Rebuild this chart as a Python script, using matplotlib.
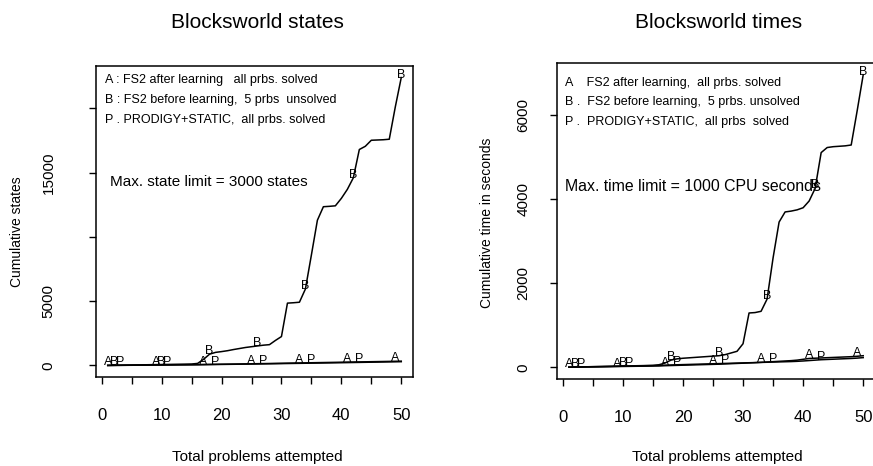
import matplotlib

matplotlib.use("Agg")

import matplotlib.pyplot as plt

plt.rcParams["font.family"] = ["Liberation Sans", "DejaVu Sans"]

# problem number on the x axis
problems = list(range(1, 51))

# cumulative states (left panel)
states_after = [4, 9, 13, 17, 21, 26, 30, 34, 38, 42, 47, 51, 55, 59, 63, 67, 76, 84, 92, 98,
                104, 110, 117, 124, 131, 139, 147, 155, 163, 171, 180, 188, 196, 205, 213, 221, 229, 237, 245, 253,
                262, 270, 278, 286, 294, 302, 310, 318, 327, 335]
states_before = [8, 15, 22, 30, 38, 45, 52, 60, 68, 75, 82, 90, 98, 105, 115, 160, 480, 880, 1020, 1080,
                 1150, 1240, 1320, 1400, 1460, 1520, 1580, 1620, 1950, 2250, 4850, 4880, 4920, 5950, 8600, 11300,
                 12350, 12380, 12420, 13000, 13700, 14600, 16800, 17050, 17520, 17540, 17560, 17600, 20100, 22400]
states_prodigy = [3, 7, 11, 15, 18, 22, 25, 29, 33, 36, 40, 43, 47, 50, 54, 58, 64, 70, 76, 82,
                  88, 94, 100, 106, 112, 118, 125, 132, 139, 146, 153, 160, 167, 174, 181, 188, 195, 202, 209, 216,
                  224, 232, 240, 248, 256, 264, 272, 280, 287, 295]

# cumulative CPU seconds (right panel)
times_after = [2, 4, 6, 8, 10, 12, 14, 16, 18, 20, 22, 24, 26, 28, 30, 32, 38, 42, 46, 50,
               54, 58, 62, 66, 70, 74, 80, 86, 92, 98, 104, 110, 118, 126, 134, 142, 150, 158, 170, 190,
               210, 216, 222, 228, 234, 240, 246, 252, 262, 275]
times_before = [3, 6, 9, 12, 15, 18, 21, 24, 27, 30, 33, 36, 39, 42, 45, 60, 100, 170, 200, 215,
                225, 235, 245, 255, 265, 275, 300, 340, 380, 560, 1290, 1300, 1330, 1620, 2600, 3450,
                3690, 3710, 3740, 3790, 3950, 4250, 5100, 5220, 5240, 5250, 5260, 5280, 6100, 6950]
times_prodigy = [3, 6, 9, 12, 14, 16, 18, 20, 23, 26, 29, 32, 35, 38, 41, 44, 50, 55, 60, 64,
                 68, 72, 76, 80, 84, 88, 92, 96, 100, 104, 108, 112, 116, 120, 124, 128, 132, 136, 142, 150,
                 160, 170, 180, 186, 192, 198, 204, 210, 218, 230]

legend_states = [
    "A : FS2 after learning   all prbs. solved",
    "B : FS2 before learning,  5 prbs  unsolved",
    "P . PRODIGY+STATIC,  all prbs. solved",
]
legend_times = [
    "A    FS2 after learning,  all prbs. solved",
    "B .  FS2 before learning,  5 prbs. unsolved",
    "P .  PRODIGY+STATIC,  all prbs  solved",
]


def draw_panel(ax, series, yticks, ytick_labels, legend, legend_xy, note, note_xy, note_size, ypad):
    """R-style panel: lines with a letter every 8th problem, box, outward ticks."""
    ymax = max(max(v) for _, v, _ in series)
    for letter, values, first in series:
        ax.plot(problems, values, color="black", linewidth=1.1)
        for i in range(first, len(problems), 8):
            ax.text(problems[i], values[i], letter, ha="center", va="baseline", fontsize=9)

    ax.set_xlim(1 - 0.04 * 49, 50 + 0.04 * 49)
    ax.set_ylim(-0.04 * ymax, 1.04 * ymax)
    ax.set_xticks(range(0, 51, 5))
    ax.set_xticklabels([str(t) if t % 10 == 0 else "" for t in range(0, 51, 5)])
    ax.set_yticks(yticks)
    ax.set_yticklabels(ytick_labels, rotation=90, va="center")
    ax.tick_params(axis="x", direction="out", length=5, width=1, labelsize=12, pad=17)
    ax.tick_params(axis="y", direction="out", length=5, width=1, labelsize=11, pad=ypad)
    for spine in ax.spines.values():
        spine.set_linewidth(1.1)

    x0, y0, dy = legend_xy
    for k, line in enumerate(legend):
        ax.text(x0, y0 - k * dy, line, transform=ax.transAxes, ha="left", va="center", fontsize=9)
    ax.text(note_xy[0], note_xy[1], note, transform=ax.transAxes, ha="left", va="center", fontsize=note_size)


fig = plt.figure(figsize=(8.73, 4.66), dpi=100)
ax_states = fig.add_axes([96 / 873, 89 / 466, 317 / 873, 311 / 466])
ax_times = fig.add_axes([557 / 873, 87 / 466, 318 / 873, 316 / 466])

draw_panel(
    ax_states,
    [("A", states_after, 0), ("B", states_before, 1), ("P", states_prodigy, 2)],
    [0, 5000, 10000, 15000, 20000],
    ["0", "5000", "", "15000", ""],
    legend_states, (0.028, 0.955, 0.065),
    "Max. state limit = 3000 states", (0.044, 0.627), 11,
    ypad=24,
)
draw_panel(
    ax_times,
    [("A", times_after, 0), ("B", times_before, 1), ("P", times_prodigy, 2)],
    [0, 2000, 4000, 6000],
    ["0", "2000", "4000", "6000"],
    legend_times, (0.025, 0.937, 0.062),
    "Max. time limit = 1000 CPU seconds", (0.025, 0.608), 11.4,
    ypad=14,
)

fig.text(257 / 873, 1 - 22 / 466, "Blocksworld states", ha="center", va="center", fontsize=15)
fig.text(719 / 873, 1 - 22 / 466, "Blocksworld times", ha="center", va="center", fontsize=15)
fig.text(257 / 873, 1 - 457 / 466, "Total problems attempted", ha="center", va="center", fontsize=11)
fig.text(717 / 873, 1 - 457 / 466, "Total problems attempted", ha="center", va="center", fontsize=11)
fig.text(17 / 873, 1 - 232 / 466, "Cumulative states", ha="center", va="center", rotation=90, fontsize=10)
fig.text(487 / 873, 1 - 223 / 466, "Cumulative time in seconds", ha="center", va="center", rotation=90, fontsize=10)

fig.savefig("out.png", dpi=100)
